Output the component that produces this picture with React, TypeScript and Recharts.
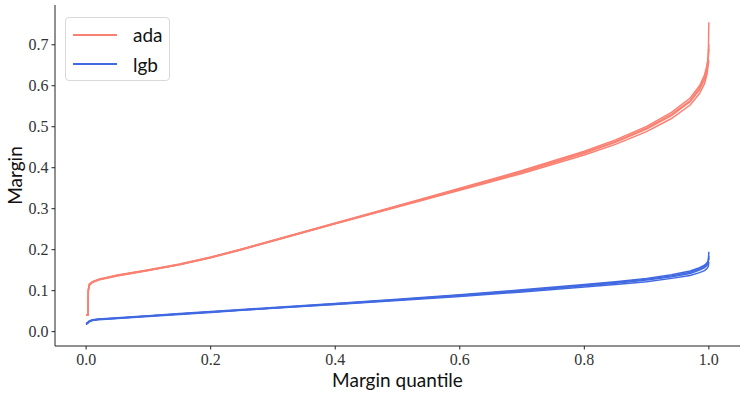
import { LineChart, Line, XAxis, YAxis, Label } from 'recharts'

const serif = "'Liberation Serif', 'DejaVu Serif', serif"
const sans = 'Lato, "Open Sans", sans-serif'

const quantiles = [0, 0.003, 0.0035, 0.005, 0.01, 0.02, 0.05, 0.1, 0.15, 0.2, 0.25, 0.3, 0.4, 0.5, 0.6, 0.7, 0.8, 0.85, 0.9, 0.94, 0.97, 0.985, 0.993, 0.997, 0.999, 1.0]

const ada1 = [0.040, 0.040, 0.100, 0.114, 0.121, 0.127, 0.137, 0.150, 0.164, 0.181, 0.201, 0.222, 0.264, 0.305, 0.347, 0.389, 0.435, 0.462, 0.494, 0.527, 0.561, 0.590, 0.615, 0.640, 0.665, 0.755]
const ada2 = [0.040, 0.040, 0.102, 0.116, 0.122, 0.128, 0.138, 0.151, 0.165, 0.182, 0.202, 0.223, 0.265, 0.307, 0.350, 0.393, 0.440, 0.468, 0.501, 0.535, 0.570, 0.600, 0.626, 0.650, 0.672, 0.700]
const ada3 = [0.040, 0.040, 0.098, 0.112, 0.120, 0.126, 0.136, 0.149, 0.163, 0.180, 0.200, 0.221, 0.263, 0.304, 0.345, 0.386, 0.431, 0.457, 0.488, 0.520, 0.553, 0.581, 0.605, 0.628, 0.650, 0.662]
const ada4 = [0.040, 0.040, 0.101, 0.115, 0.121, 0.127, 0.137, 0.150, 0.164, 0.181, 0.201, 0.222, 0.264, 0.306, 0.348, 0.390, 0.437, 0.464, 0.497, 0.530, 0.564, 0.594, 0.620, 0.645, 0.668, 0.690]

const lgb1 = [0.018, 0.022, 0.023, 0.025, 0.028, 0.030, 0.033, 0.038, 0.043, 0.048, 0.053, 0.058, 0.067, 0.077, 0.088, 0.099, 0.112, 0.118, 0.126, 0.134, 0.142, 0.150, 0.156, 0.162, 0.168, 0.195]
const lgb2 = [0.020, 0.023, 0.024, 0.026, 0.029, 0.031, 0.034, 0.039, 0.044, 0.049, 0.054, 0.059, 0.069, 0.079, 0.090, 0.102, 0.115, 0.122, 0.130, 0.139, 0.148, 0.156, 0.162, 0.168, 0.173, 0.180]
const lgb3 = [0.017, 0.021, 0.022, 0.024, 0.027, 0.029, 0.032, 0.037, 0.042, 0.047, 0.052, 0.057, 0.066, 0.076, 0.086, 0.097, 0.109, 0.115, 0.122, 0.130, 0.137, 0.144, 0.149, 0.154, 0.159, 0.170]
const lgb4 = [0.019, 0.022, 0.023, 0.025, 0.028, 0.030, 0.033, 0.038, 0.043, 0.048, 0.053, 0.058, 0.068, 0.078, 0.089, 0.100, 0.113, 0.120, 0.128, 0.136, 0.145, 0.153, 0.159, 0.165, 0.170, 0.185]

const xTicks = [0, 0.2, 0.4, 0.6, 0.8, 1.0]
const yTicks = [0, 0.1, 0.2, 0.3, 0.4, 0.5, 0.6, 0.7]

const ADA = '#FA8072'
const LGB = '#4169E1'

const series = [
  { key: 'ada1', values: ada1, color: ADA },
  { key: 'ada2', values: ada2, color: ADA },
  { key: 'ada3', values: ada3, color: ADA },
  { key: 'ada4', values: ada4, color: ADA },
  { key: 'lgb1', values: lgb1, color: LGB },
  { key: 'lgb2', values: lgb2, color: LGB },
  { key: 'lgb3', values: lgb3, color: LGB },
  { key: 'lgb4', values: lgb4, color: LGB },
]

const legendItems = [
  { name: 'ada', color: ADA },
  { name: 'lgb', color: LGB },
]

const data = quantiles.map((q, i) => {
  const row: Record<string, number> = { q }
  series.forEach(s => { row[s.key] = s.values[i] })
  return row
})

const fmt = (v: number) => v.toFixed(1)

const tickStyle = { fontFamily: serif, fontSize: 16, fill: '#333' }

// serif tick labels, drawn by hand so the font sticks
const XTick = (p: any) => (
  <text x={p.x} y={p.y} dy={12} textAnchor="middle" style={tickStyle}>
    {fmt(p.payload.value)}
  </text>
)
const YTick = (p: any) => (
  <text x={p.x} y={p.y} dy={5} textAnchor="end" style={tickStyle}>
    {fmt(p.payload.value)}
  </text>
)

const YLabel = (p: any) => {
  const vb = p.viewBox
  const cx = 14
  const cy = vb.y + vb.height / 2
  return (
    <text x={cx} y={cy} transform={`rotate(-90 ${cx} ${cy})`} textAnchor="middle" dominantBaseline="central"
      style={{ fontFamily: sans, fontSize: 19, fill: '#111' }}>Margin</text>
  )
}

function ChartLegend() {
  return (
    <div style={{
      position: 'absolute', left: 65, top: 17,
      width: 105, height: 64, border: '1px solid #d9d9d9', borderRadius: 4,
      background: 'rgba(255,255,255,0.8)', boxSizing: 'border-box', padding: '2px 0 0 7px',
    }}>
      {legendItems.map(it => (
        <div key={it.name} style={{ display: 'flex', alignItems: 'center', height: 29.5 }}>
          <div style={{ width: 44, height: 2, background: it.color }} />
          <span style={{ marginLeft: 16, fontFamily: sans, fontSize: 19, color: '#111', lineHeight: 1 }}>{it.name}</span>
        </div>
      ))}
    </div>
  )
}

export default function App() {
  return (
    <div style={{ position: 'absolute', left: 0, top: 0, width: 747, height: 397, background: '#fff' }}>
      <LineChart width={747} height={397} data={data} margin={{ top: 5, right: 7, left: 0, bottom: 0 }}>
        <XAxis
          dataKey="q" type="number" domain={[-0.05, 1.05]} ticks={xTicks}
          height={51} tickSize={3.5} tickMargin={3}
          stroke="#222" tick={<XTick />}
        >
          <Label value="Margin quantile" position="insideBottom" offset={10}
            style={{ fontSize: 19, fontFamily: sans, fill: '#111' }} />
        </XAxis>
        <YAxis
          type="number" domain={[-0.035, 0.797]} ticks={yTicks}
          width={55} tickSize={3.5} tickMargin={3} allowDataOverflow
          stroke="#222" tick={<YTick />}
        >
          <Label content={<YLabel />} />
        </YAxis>
        {series.map(s => (
          <Line key={s.key} dataKey={s.key} type="linear" stroke={s.color} strokeWidth={1.5}
            dot={false} activeDot={false} isAnimationActive={false} />
        ))}
      </LineChart>
      <ChartLegend />
    </div>
  )
}
